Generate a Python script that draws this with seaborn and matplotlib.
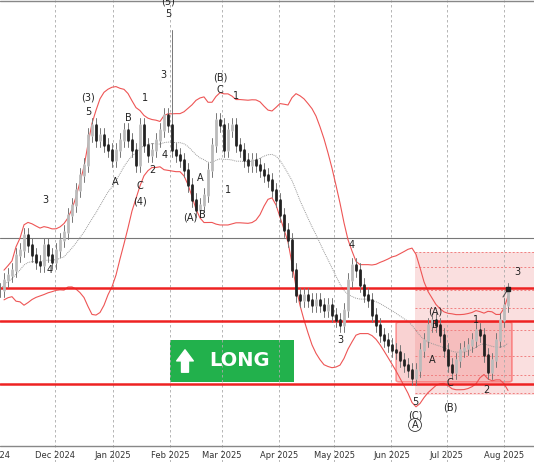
import numpy as np
import pandas as pd
import matplotlib
matplotlib.use('Agg')
import matplotlib.pyplot as plt
import matplotlib.dates as mdates
from matplotlib.patches import FancyBboxPatch, Rectangle
import seaborn as sns

# closes (price units: higher = up), one every ~2 days from 1 Nov 2024
closes_px = [290, 280, 275, 270, 255, 250, 235, 245, 255, 262, 265, 245, 255, 262, 250, 240,
             232, 215, 205, 190, 175, 165, 135, 125, 140, 135, 145, 150, 160, 150, 140, 130,
             140, 150, 165, 125, 145, 155, 150, 140, 130, 115, 125, 150, 155, 160, 170, 185,
             200, 210, 205, 195, 170, 145, 120, 125, 150, 130, 125, 145, 150, 160, 165, 160,
             165, 170, 175, 180, 190, 200, 215, 230, 240, 270, 295, 300, 295, 300, 305, 300,
             305, 310, 305, 315, 320, 325, 310, 280, 265, 270, 285, 295, 300, 315, 325, 335,
             340, 345, 350, 352, 360, 365, 370, 378, 370, 350, 340, 325, 320, 325, 335, 350,
             365, 372, 360, 350, 348, 345, 340, 330, 335, 355, 372, 360, 340, 320, 305, 290]
close = 462 - np.array(closes_px, dtype=float)
n = len(close)
start = pd.Timestamp('2024-11-01')
dates = pd.date_range(start, periods=n, freq='52h')
opens = np.r_[close[0], close[:-1]]
high = np.maximum(opens, close) + 7
low = np.minimum(opens, close) - 7
high[43] = 462 - 30   # spike top "(5)"

levels_px = [288, 321, 384]
black_level_px = 238

month_ticks = ['2024-11-01', '2024-12-01', '2025-01-01', '2025-02-01', '2025-03-01', '2025-04-01',
               '2025-05-01', '2025-06-01', '2025-07-01', '2025-08-01', '2025-09-01']
month_labels = ['2024', 'Dec 2024', 'Jan 2025', 'Feb 2025', 'Mar 2025', 'Apr 2025',
                'May 2025', 'Jun 2025', 'Jul 2025', 'Aug 2025', 'Aug']

waves = [(45, 200, '3'), (50, 270, '4'), (88, 112, '5'), (88, 98, '(3)'), (115, 182, 'A'),
         (128, 118, 'B'), (140, 186, 'C'), (140, 202, '(4)'), (145, 98, '1'), (152, 170, '2'),
         (163, 75, '3'), (165, 155, '4'), (168, 14, '5'), (168, 2, '(5)'), (190, 218, '(A)'),
         (202, 215, 'B'), (200, 178, 'A'), (220, 90, 'C'), (220, 77, '(B)'), (236, 96, '1'),
         (228, 190, '1'), (340, 340, '3'), (352, 245, '4'), (415, 402, '5'), (415, 415, '(C)'),
         (435, 312, '(A)'), (435, 325, 'B'), (432, 360, 'A'), (450, 383, 'C'), (450, 408, '(B)'),
         (476, 320, '1'), (486, 390, '2'), (517, 272, '3')]

sns.set_style('white')
fig = plt.figure(figsize=(5.34, 4.62), dpi=100)
ax = fig.add_axes([0, 0, 1, 1])
px = pd.Timedelta(hours=13)  # one pixel in time
ax.set_xlim(start, start + 534 * px)
ax.set_ylim(0, 462)
ax.axis('off')
Y = lambda y: 462 - y
X = lambda x: start + x * px

for t in month_ticks[1:]:
    ax.axvline(pd.Timestamp(t), color='#aaaaaa', lw=0.6, ls=(0, (3, 3)))
for t, lab in zip(month_ticks, month_labels):
    ax.text(pd.Timestamp(t), Y(456), lab, fontsize=6, ha='center', va='center', color='#333333')
ax.axhline(Y(446), color='#888888', lw=1)
ax.axhline(Y(1), color='#888888', lw=1)
ax.axhline(Y(black_level_px), color='#777777', lw=0.8)

# target zone
ax.add_patch(Rectangle((mdates.date2num(X(415)), Y(395)), 140 * 13 / 24, 143,
                       color='#f4b8b8', alpha=0.45, lw=0))
for yy in [252, 267, 290, 308, 330, 356, 375, 393]:
    ax.plot([X(415), X(534)], [Y(yy), Y(yy)], color='#f08080', lw=0.7, ls=(0, (2, 2)))
ax.add_patch(FancyBboxPatch((mdates.date2num(X(396)), Y(382)), 116 * 13 / 24, 60,
                            boxstyle='round,pad=0,rounding_size=2', fc='#f08080', alpha=0.35,
                            ec='red', lw=1.2, mutation_aspect=1))

s = pd.Series(close)
mid = s.rolling(17, min_periods=1).mean()
sd = s.rolling(17, min_periods=2).std()
ax.plot(dates, mid, color='#999999', lw=0.7, ls=(0, (1, 1)))
ax.plot(dates, mid + 2.1 * sd, color='#ee5555', lw=0.8)
ax.plot(dates, mid - 2.1 * sd, color='#ee5555', lw=0.8)

for lv in levels_px:
    ax.axhline(Y(lv), color='#ee2222', lw=1.8)

for d, o, c, h, l in zip(dates, opens, close, high, low):
    ax.plot([d, d], [l, h], color='#777777', lw=0.7)
    ax.plot([d, d], [o, c], color='#222222' if c < o else '#bbbbbb', lw=2)

for x, y, t in waves:
    ax.text(X(x), Y(y), t, fontsize=7, ha='center', va='center', color='#222222')
ax.text(X(415), Y(425), 'A', fontsize=7, ha='center', va='center',
        bbox=dict(boxstyle='circle,pad=0.15', fc='white', ec='#333333', lw=0.6))

# LONG box
ax.add_patch(Rectangle((mdates.date2num(X(170)), Y(382)), 124 * 13 / 24, 42, color='#22b14c', lw=0))
ax.annotate('', xy=(X(185), Y(347)), xytext=(X(185), Y(375)),
            arrowprops=dict(arrowstyle='simple,head_width=1.2,head_length=0.8,tail_width=0.5',
                            fc='white', ec='white'))
ax.text(X(240), Y(361), 'LONG', fontsize=14, fontweight='bold', color='white', ha='center', va='center')
ax.plot([X(503), X(508)], [Y(297), Y(289)], color='#555555', lw=0.8)
ax.plot(X(508), Y(289), marker='s', ms=2.5, color='#222222')

fig.savefig('out.png', dpi=100)
